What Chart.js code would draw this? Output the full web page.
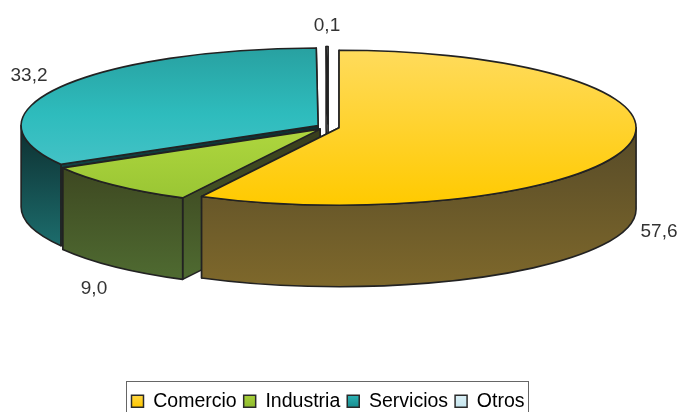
<!DOCTYPE html>
<html><head><meta charset="utf-8">
<style>html,body{margin:0;padding:0;background:#fff;overflow:hidden}#w{width:679px;height:412px;position:relative}</style>
<script src="https://cdn.jsdelivr.net/npm/chart.js@4/dist/chart.umd.min.js"></script>
</head><body><div id="w"><canvas id="c" width="679" height="412"></canvas></div>
<script>
const categories = ['Comercio', 'Industria', 'Servicios', 'Otros'];
const values = [57.6, 9.0, 33.2, 0.1];
const valueLabels = ['57,6', '9,0', '33,2', '0,1'];
const labelPositions = [[659, 232], [94, 289], [29, 76], [327, 26]];
const topStops = [
  [[50, '#FFDB5C'], [205, '#FFCA00']],
  [[130, '#AED63E'], [197, '#9AC634']],
  [[48, '#28A1A1'], [115, '#2EBCBD'], [165, '#43C2C6']],
  [[47, '#F4FBFD'], [130, '#F4FBFD']]
];
const wallStops = [
  [[127, '#564A28'], [286, '#7E682B']],
  [[130, '#383C1C'], [280, '#4F6B31']],
  [[125, '#0D2E2F'], [245, '#1C6C6C']],
  [[47, '#FFFFFF'], [210, '#FFFFFF']]
];
const legendColors = [['#FFD84A', '#FFC800'], ['#AAD23A', '#8FBB2F'], ['#2FB6B8', '#188E90'], ['#DDF1F7', '#C6E6EF']];
const drawOrder = [2, 3, 1, 0];
const centerY = 127, flatten = 0.261, depth = 81.5, explode = 11.4;

function grad(ctx, stops) {
  const a = stops[0][0], b = stops[stops.length - 1][0];
  const g = ctx.createLinearGradient(0, a, 0, b);
  stops.forEach(s => g.addColorStop((s[0] - a) / (b - a), s[1]));
  return g;
}
const pie3d = {
  id: 'pie3d',
  beforeDatasetsDraw(chart) {
    const ctx = chart.ctx, arcs = chart.getDatasetMeta(0).data;
    ctx.save();
    ctx.lineWidth = 1.6; ctx.strokeStyle = '#222'; ctx.lineJoin = 'round';
    const paint = fill => { ctx.fillStyle = fill; ctx.fill(); ctx.stroke(); };
    drawOrder.forEach(i => {
      const el = arcs[i], a = el.startAngle, b = el.endAngle, R = el.outerRadius, ry = R * flatten;
      const mid = (a + b) / 2, off = el.options.offset;
      const cx = el.x + Math.cos(mid) * off;
      const cy = centerY + Math.sin(mid) * off * flatten;
      const wall = grad(ctx, wallStops[i]);
      [b, a].forEach(t => {
        const ox = cx + R * Math.cos(t), oy = cy + ry * Math.sin(t);
        ctx.beginPath(); ctx.moveTo(cx, cy); ctx.lineTo(ox, oy); ctx.lineTo(ox, oy + depth); ctx.lineTo(cx, cy + depth); ctx.closePath();
        paint(wall);
      });
      const f0 = Math.max(a, 0), f1 = Math.min(b, Math.PI);
      if (f1 > f0) {
        ctx.beginPath();
        ctx.ellipse(cx, cy, R, ry, 0, f0, f1);
        ctx.ellipse(cx, cy + depth, R, ry, 0, f1, f0, true);
        ctx.closePath();
        paint(wall);
      }
      ctx.beginPath(); ctx.moveTo(cx, cy);
      ctx.ellipse(cx, cy, R, ry, 0, a, b);
      ctx.closePath();
      paint(grad(ctx, topStops[i]));
    });
    ctx.fillStyle = '#333'; ctx.font = '19px "Liberation Sans"';
    ctx.textAlign = 'center'; ctx.textBaseline = 'middle';
    valueLabels.forEach((t, i) => ctx.fillText(t, labelPositions[i][0], labelPositions[i][1]));
    ctx.restore();
    return false;
  },
  afterDraw(chart) {
    const ctx = chart.ctx, boxes = chart.legend.legendHitBoxes;
    const left = Math.min(...boxes.map(h => h.left)) - 5;
    const right = Math.max(...boxes.map(h => h.left + h.width)) + 4;
    ctx.save(); ctx.strokeStyle = '#666'; ctx.lineWidth = 1;
    ctx.strokeRect(Math.round(left) + .5, 381.5, Math.round(right - left), 40);
    ctx.restore();
  }
};
new Chart(document.getElementById('c'), {
  type: 'pie',
  data: { labels: categories, datasets: [{ data: values, offset: explode, backgroundColor: legendColors.map(c => c[0]), borderWidth: 0 }] },
  options: {
    responsive: false, animation: false, radius: 297,
    layout: { padding: { left: 0, right: 23, top: 0, bottom: -9 } },
    plugins: {
      tooltip: { enabled: false },
      legend: {
        position: 'bottom',
        labels: {
          boxWidth: 12, boxHeight: 12, padding: 7, color: '#333',
          font: { family: '"Liberation Sans"', size: 19.5 },
          generateLabels(chart) {
            return categories.map((t, i) => {
              const g = chart.ctx.createLinearGradient(0, 394, 0, 407);
              g.addColorStop(0, legendColors[i][0]); g.addColorStop(1, legendColors[i][1]);
              return { text: t, fillStyle: g, strokeStyle: '#2a2a2a', lineWidth: 1.5, index: i, hidden: false };
            });
          }
        }
      }
    }
  },
  plugins: [pie3d]
});
</script></body></html>
